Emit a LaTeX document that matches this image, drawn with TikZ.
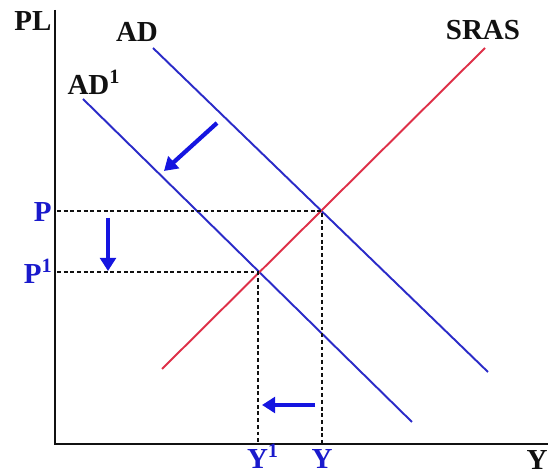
\documentclass[tikz,border=0pt]{standalone}
\usepackage{fontspec}
\setmainfont{Liberation Serif}
\usepackage{tikz}
\usetikzlibrary{arrows.meta,positioning,calc}
\definecolor{ink}{HTML}{111111}
\definecolor{adblue}{HTML}{2B2BC8}
\definecolor{asred}{HTML}{DE3048}
\definecolor{shiftblue}{HTML}{1515E0}
\definecolor{valblue}{HTML}{1A1ACC}
\tikzset{
  axisline/.style={draw=ink,line width=1.2pt},
  adcurve/.style={draw=adblue,line width=1.1pt},
  ascurve/.style={draw=asred,line width=1.1pt},
  guide/.style={draw=ink,line width=0.9pt,dash pattern=on 2.2pt off 1.6pt},
  shiftarr/.style={-{Triangle[length=7.5pt,width=9pt]},draw=shiftblue,line width=2.4pt},
  axislabel/.style={text=ink,font=\fontsize{16.5}{18}\selectfont\bfseries,inner sep=0pt},
  vallabel/.style={text=valblue,font=\fontsize{16.5}{18}\selectfont\bfseries,inner sep=0pt}
}
\begin{document}
\begin{tikzpicture}[x=0.02cm,y=-0.02cm]
  \useasboundingbox (0,0) rectangle (552,475);
  % axes
  \coordinate (origin) at (55,444);
  \coordinate (ytop) at (55,10);
  \coordinate (xend) at (548,444);
  \draw[axisline] (ytop) -- (origin) -- (xend);
  \node[axislabel] (pl) at (33,21) {PL};
  \node[axislabel,anchor=base] (yaxis) at (537,470) {Y};
  % curves
  \coordinate (ad-a) at (153,48);
  \coordinate (ad-b) at (488,372);
  \coordinate (adone-a) at (83,99);
  \coordinate (adone-b) at (412,422);
  \coordinate (sras-a) at (162,369);
  \coordinate (sras-b) at (485,48);
  \draw[adcurve] (ad-a) -- (ad-b);
  \draw[adcurve] (adone-a) -- (adone-b);
  \draw[ascurve] (sras-a) -- (sras-b);
  \node[axislabel] (adlab) at (137,32) {AD};
  \node[axislabel] (adonelab) at (94,82) {AD\textsuperscript{1}};
  \node[axislabel] (sraslab) at (483,30) {SRAS};
  % equilibria
  \coordinate (eq) at (322,211);
  \coordinate (eqone) at (258,272);
  \coordinate (p-ax) at (57,211);
  \coordinate (pone-ax) at (57,272);
  \coordinate (y-ax) at (322,443);
  \coordinate (yone-ax) at (258,443);
  \draw[guide] (p-ax) -- (eq) -- (y-ax);
  \draw[guide] (pone-ax) -- (eqone) -- (yone-ax);
  \node[vallabel,anchor=east] (plab) at (52,212) {P};
  \node[vallabel,anchor=east] (ponelab) at (53,271) {P\textsuperscript{1}};
  \node[vallabel,anchor=base] (ylab) at (322,469) {Y};
  \node[vallabel,anchor=base] (yonelab) at (263,469) {Y\textsuperscript{1}};
  % shifts
  \coordinate (dn-a) at (108,218);
  \coordinate (dn-b) at (108,271);
  \coordinate (lf-a) at (315,405);
  \coordinate (lf-b) at (262,405);
  \coordinate (dg-a) at (217,123);
  \coordinate (dg-b) at (164,171);
  \draw[shiftarr] (dn-a) -- (dn-b);
  \draw[shiftarr] (lf-a) -- (lf-b);
  \draw[shiftarr] (dg-a) -- (dg-b);
\end{tikzpicture}
\end{document}
